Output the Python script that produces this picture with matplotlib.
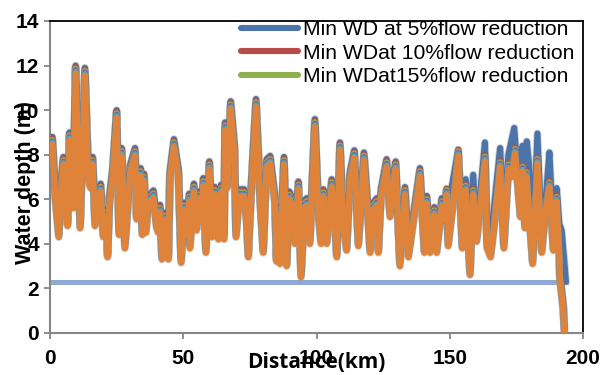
import numpy as np
import matplotlib
matplotlib.use('Agg')
import matplotlib.pyplot as plt

plt.rcParams['font.family'] = 'Liberation Sans'

# Distance along the river (km) and the lowest (30%) min water depth curve (m)
distance = [0, 0.9, 2.0, 3.3, 4.2, 5.0, 6.0, 6.6, 7.3, 8.0, 8.7, 9.6, 10.5, 11.3, 12.2, 13.1,
            14.4, 15.2, 16.0, 16.9, 18.0, 19.0, 20.0, 20.7, 21.3, 21.6, 22.3, 23.5, 25.0, 25.9,
            26.9, 28.1, 29.2, 30.1, 31.9, 32.5, 34.0, 34.6, 35.3, 36.0, 36.9, 38.8, 40.0, 40.6,
            41.3, 42.0, 43.2, 44.4, 45.0, 46.5, 48.2, 49.2, 50.4, 51.3, 52.2, 52.5, 54.0, 55.0,
            55.9, 56.9, 57.5, 58.5, 59.8, 60.9, 61.9, 63.2, 64.2, 65.3, 65.7, 66.5, 67.8, 69.2,
            69.8, 71.0, 72.9, 73.8, 74.4, 75.3, 77.3, 78.8, 80.0, 81.3, 82.6, 84.4, 85.0, 85.9,
            86.3, 87.8, 88.8, 89.8, 90.6, 91.9, 93.2, 94.2, 95.5, 96.3, 97.5, 99.4, 100.7, 101.7,
            102.6, 103.8, 105.7, 107.0, 107.6, 108.8, 110.1, 111.3, 112.6, 114.2, 115.7, 117.8,
            119.1, 120.1, 121.3, 122.6, 123.2, 124.2, 126.3, 127.6, 128.3, 129.7, 131.3, 133.2,
            134.5, 135.8, 137.0, 138.8, 140.5, 141.4, 142.6, 144.2, 145.1, 147.0, 148.2, 148.8,
            149.4, 151.0, 153.2, 154.7, 156.0, 157.6, 158.8, 160.1, 161.4, 163.2, 164.0, 165.3,
            166.5, 168.9, 170.3, 172.0, 173.3, 174.5, 176.5, 177.3, 178.2, 178.8, 181.1, 182.9,
            184.5, 186.0, 187.4, 188.9, 190.1, 191.1, 191.3, 192.6, 193.0]
depth_low = [8.4, 8.45, 6.0, 4.3, 6.5, 7.55, 5.5, 4.8, 8.65, 7.5, 5.6, 11.65, 8.0, 4.7, 8.0, 11.55,
             6.8, 6.5, 7.55, 4.8, 5.5, 6.35, 4.3, 5.2, 4.95, 3.4, 5.8, 7.0, 9.65, 4.4,
             7.95, 3.8, 5.7, 7.2, 7.95, 5.1, 7.05, 4.4, 6.8, 4.5, 5.8, 6.05, 4.7, 4.5,
             5.4, 3.3, 5.05, 3.3, 6.9, 8.35, 7.0, 3.15, 5.5, 4.4, 5.9, 3.8, 6.35, 4.6,
             6.0, 5.0, 6.6, 3.6, 7.35, 4.3, 6.2, 4.2, 6.3, 4.2, 9.1, 6.5, 10.05, 8.1,
             4.3, 6.1, 6.1, 4.9, 3.4, 5.8, 10.15, 6.0, 3.6, 7.45, 7.6, 5.8, 3.2, 5.3,
             3.1, 7.55, 3.0, 6.0, 5.8, 4.0, 6.45, 2.5, 5.6, 5.7, 4.0, 9.25, 5.3, 4.0,
             6.1, 4.0, 6.55, 4.6, 3.4, 8.2, 4.7, 3.7, 6.9, 7.85, 3.9, 7.75,
             5.6, 3.6, 5.5, 5.7, 3.6, 6.1, 7.45, 5.2, 6.3, 7.35, 3.0, 6.2,
             3.4, 4.5, 5.5, 7.05, 3.6, 5.8, 3.6, 5.3, 3.6, 5.7, 5.1, 6.2,
             3.9, 5.5, 7.95, 3.8, 6.4, 2.6, 6.2, 4.1, 5.6, 7.7, 3.8, 3.4,
             4.6, 7.45, 3.8, 7.35, 7.0, 8.05, 5.2, 7.25, 4.7, 7.0, 3.1, 7.6,
             3.6, 5.5, 6.55, 3.7, 5.9, 3.5, 2.4, 1.0, 0.0]

# 5% curve where it leaves the others (km 148 onwards)
tail_km = [148.2, 149.4, 150.5, 153.2, 154.7, 156.0, 157.6, 158.8, 160.1, 161.4, 163.2, 164.0,
           165.3, 166.5, 168.9, 170.3, 172.0, 174.2, 175.5, 176.5, 177.3, 178.2, 178.9, 179.8,
           181.1, 182.9, 184.5, 186.0, 187.4, 188.9, 190.1, 191.1, 192.0, 193.0, 193.6]
tail_depth_5 = [5.45, 4.5, 6.4, 8.2, 4.4, 6.9, 4.3, 7.1, 4.6, 6.2, 8.55, 4.5,
                4.2, 5.5, 8.3, 4.8, 8.0, 9.2, 7.0, 6.0, 8.4, 6.0, 8.6, 7.5,
                3.8, 8.95, 4.2, 6.0, 8.1, 4.4, 6.5, 4.9, 4.6, 3.2, 2.3]

# vertical gap of each scenario above the lowest curve (m)
scenarios = ['Min WD at 5%flow reduction', 'Min WDat 10%flow reduction',
             'Min WDat15%flow reduction', '20%', '25%', '30%']
stack_shift = [0.35, 0.28, 0.21, 0.14, 0.07, 0.0]
colors = ['#4A74AA', '#B84A47', '#8FB050', '#7D64A0', '#4AA8C2', '#E0833A']

limit_depth = 2.3
limit_km = [0, 193.6]

fig = plt.figure(figsize=(6.04, 3.75), dpi=100)
ax = fig.add_axes([50/604, 42/375, 533/604, 312/375])

ax.plot(limit_km, [limit_depth, limit_depth], color='#8EA9D3', lw=3.6, zorder=1)

x = np.array(distance)
y = np.array(depth_low)
lines = []
for i, name in enumerate(scenarios):
    if i == 0:
        keep = x < tail_km[0]
        xs = np.concatenate([x[keep], tail_km])
        ys = np.concatenate([y[keep] + stack_shift[i], tail_depth_5])
    else:
        xs, ys = x, y + stack_shift[i]
    # soft grey edge like the excel shadow
    ax.plot(xs, ys, color='#9a9a9a', lw=5.6, alpha=0.45, solid_capstyle='round',
            solid_joinstyle='round', zorder=1.5)
    ln, = ax.plot(xs, ys, color=colors[i], lw=4.4, solid_capstyle='round',
                  solid_joinstyle='round', label=name, zorder=2 + i)
    lines.append(ln)

ax.set_xlim(0, 200)
ax.set_ylim(0, 14)
ax.set_xticks(range(0, 201, 50))
ax.set_yticks(range(0, 15, 2))

for s in ['left', 'bottom']:
    ax.spines[s].set_color('#868686')
    ax.spines[s].set_linewidth(1.5)
for s in ['top', 'right']:
    ax.spines[s].set_color('black')
    ax.spines[s].set_linewidth(1.3)

ax.tick_params(axis='both', direction='out', length=4.5, width=1.3, color='#868686',
               labelsize=15)
ax.tick_params(axis='x', pad=7)
ax.tick_params(axis='y', pad=3.5)
for lab in ax.get_xticklabels() + ax.get_yticklabels():
    lab.set_fontweight('bold')

fig.text(316/604, 1 - 363/375, 'Distance(km)', ha='center', va='center',
         fontsize=15, fontweight='bold', family='Open Sans')
fig.text(26/604, 1 - 183/375, 'Water depth (m)', ha='center', va='center',
         rotation=90, fontsize=15.5, fontweight='bold')

fig.legend(handles=lines[:3], loc='upper left', bbox_to_anchor=(241/604, 1 - 20/375),
           frameon=False, fontsize=15.2, handlelength=2.7, handletextpad=0.22,
           labelspacing=0.22, borderpad=0, borderaxespad=0)

fig.savefig('out.png', dpi=100)
